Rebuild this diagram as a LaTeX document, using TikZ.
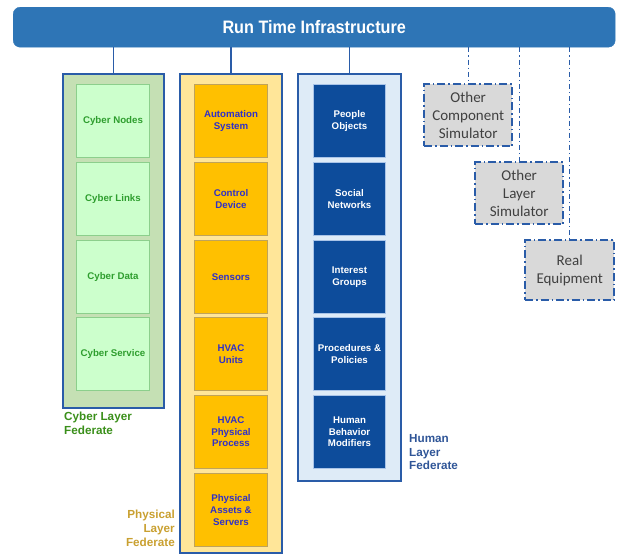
\documentclass[tikz,border=0pt]{standalone}
\usepackage{fontspec}
\setmainfont{Liberation Sans}
\newfontfamily\calibri{Carlito}
\definecolor{rtiblue}{HTML}{2E75B6}
\definecolor{frameblue}{HTML}{2A5CA8}
\definecolor{cyouter}{HTML}{C5E0B4}
\definecolor{cyinner}{HTML}{CCFFCC}
\definecolor{cyline}{HTML}{8CCF8C}
\definecolor{cytext}{HTML}{2E9E2E}
\definecolor{cylabel}{HTML}{3A8F1A}
\definecolor{phouter}{HTML}{FFE699}
\definecolor{phinner}{HTML}{FFC000}
\definecolor{phline}{HTML}{BFA35A}
\definecolor{phtext}{HTML}{3030C8}
\definecolor{phlabel}{HTML}{C9A030}
\definecolor{huouter}{HTML}{DEEBF7}
\definecolor{huinner}{HTML}{0D4C9B}
\definecolor{huline}{HTML}{A9C4E8}
\definecolor{hulabel}{HTML}{2F5597}
\definecolor{simfill}{HTML}{D9D9D9}
\definecolor{simtext}{HTML}{404040}
\begin{document}
\begin{tikzpicture}[x=1pt,y=-1pt,
  rtibar/.style={rectangle, rounded corners=7pt, fill=rtiblue, draw=rtiblue, anchor=north west, inner sep=0pt,
    minimum width=602pt, minimum height=40pt, text=white, font=\bfseries\fontsize{18}{20}\selectfont},
  outerbox/.style={rectangle, draw=frameblue, line width=2.2pt, anchor=north west, inner sep=0pt, minimum width=101pt},
  innerbox/.style={rectangle, line width=1pt, anchor=north west, inner sep=0pt, minimum width=73pt, minimum height=73pt,
    align=center, font=\bfseries\fontsize{9.7}{11.6}\selectfont},
  cyberbox/.style={innerbox, fill=cyinner, draw=cyline, text=cytext},
  physbox/.style={innerbox, fill=phinner, draw=phline, text=phtext},
  humanbox/.style={innerbox, fill=huinner, draw=huline, text=white, minimum width=72pt},
  fedlabel/.style={inner sep=0pt, font=\bfseries\fontsize{11.7}{13.8}\selectfont},
  simbox/.style={rectangle, fill=simfill, draw=frameblue, line width=2.4pt, dash pattern=on 8pt off 3pt on 1.5pt off 3pt,
    anchor=north west, inner sep=0pt, minimum width=88pt, minimum height=62pt, align=center, text=simtext,
    font=\calibri\fontsize{15}{17.7}\selectfont},
  link/.style={draw=frameblue, line width=1.5pt},
  dlink/.style={draw=frameblue, line width=1.3pt, dash pattern=on 5pt off 3pt on 1.2pt off 3pt}
]
\useasboundingbox (0,0) rectangle (617,554);

% RTI bar
\node[rtibar] (rti) at (13,7) {\scalebox{0.9}[1]{Run Time Infrastructure}};

% outer federate boxes
\node[outerbox, fill=cyouter, minimum height=334pt] (cyber) at (62,73) {};
\node[outerbox, fill=phouter, minimum height=479pt, minimum width=102pt] (phys) at (179,73) {};
\node[outerbox, fill=huouter, minimum height=407pt, minimum width=103pt] (human) at (297,73) {};

% connectors from RTI
\draw[link] (rti.south -| cyber.north) -- (cyber.north);
\draw[link] (rti.south -| phys.north) -- (phys.north);
\draw[link] (rti.south -| human.north) -- (human.north);

% cyber inner
\node[cyberbox] (cn) at (76,84) {Cyber Nodes};
\node[cyberbox] (cl) at (76,162) {Cyber Links};
\node[cyberbox] (cd) at (76,240) {Cyber Data};
\node[cyberbox] (cs) at (76,317) {Cyber Service};

% physical inner
\node[physbox] (pa) at (194,84) {Automation\\System};
\node[physbox] (pc) at (194,162) {Control\\Device};
\node[physbox] (ps) at (194,240) {Sensors};
\node[physbox] (pu) at (194,317) {HVAC\\Units};
\node[physbox] (pp) at (194,395) {HVAC\\Physical\\Process};
\node[physbox] (pas) at (194,473) {Physical\\Assets \&\\Servers};

% human inner
\node[humanbox] (hp) at (313,84) {People\\Objects};
\node[humanbox] (hs) at (313,162) {Social\\Networks};
\node[humanbox] (hi) at (313,240) {Interest\\Groups};
\node[humanbox] (hpp) at (313,317) {Procedures \&\\Policies};
\node[humanbox] (hb) at (313,395) {Human\\Behavior\\Modifiers};

% federate labels
\node[fedlabel, anchor=north west, align=left, text=cylabel] (cyl) at (64,412) {Cyber Layer\\Federate};
\node[fedlabel, anchor=north east, align=right, text=phlabel] (phl) at (175,510) {Physical\\Layer\\Federate};
\node[fedlabel, anchor=north west, align=left, text=hulabel] (hul) at (409,434) {Human\\Layer\\Federate};

% simulators
\node[simbox] (ocs) at (423,83) {Other\\Component\\Simulator};
\node[simbox] (ols) at (474,161) {Other\\Layer\\Simulator};
\node[simbox, minimum height=60pt, minimum width=89pt] (req) at (524,239) {Real\\Equipment};

\draw[dlink] (rti.south -| ocs.north) -- (ocs.north);
\draw[dlink] (rti.south -| ols.north) -- (ols.north);
\draw[dlink] (rti.south -| req.north) -- (req.north);
\end{tikzpicture}
\end{document}
